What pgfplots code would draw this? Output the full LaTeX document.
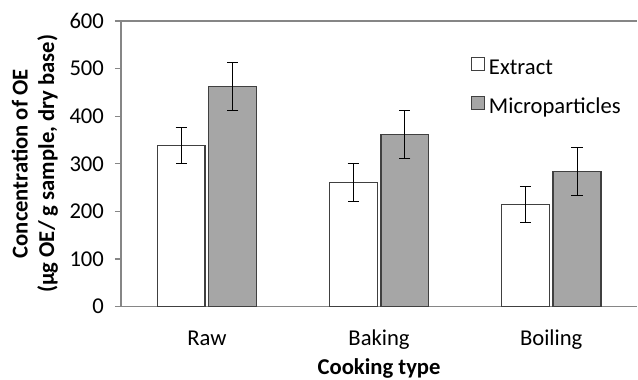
\documentclass[border=0pt]{standalone}
\usepackage{pgfplots}
\pgfplotsset{compat=1.18}
\usepackage{fontspec}
\setmainfont{Carlito}
\definecolor{barg}{HTML}{A6A6A6}
\definecolor{axg}{HTML}{868686}
\definecolor{edg}{HTML}{404040}
\newcommand{\fs}{\fontsize{17}{20}\selectfont}
\begin{document}
\fs
\begin{tikzpicture}
\begin{axis}[
  scale only axis, width=387.75pt, height=214.5pt,
  ymin=0, ymax=600, ytick={0,100,...,600},
  xmin=-0.5, xmax=2.5,
  xtick={0,1,2}, xticklabels={Raw,Baking,Boiling},
  major x tick style={draw=none},
  extra x ticks={-0.5,0.5,1.5,2.5}, extra x tick labels={},
  extra x tick style={major tick length=4.5pt, tick style={draw=axg, line width=1pt}},
  axis x line*=bottom, axis y line*=left,
  axis line style={draw=axg, line width=1.1pt, -},
  tick align=outside,
  major tick length=4.5pt,
  ytick style={draw=axg, line width=1pt},
  /pgf/number format/assume math mode=true,
  tick label style={font=\fs},
  xticklabel style={anchor=base, inner sep=0pt, yshift=-25pt},
  yticklabel style={anchor=east, inner sep=0pt, xshift=-8pt},
  ylabel={Concentration of OE\\(µg OE/ g sample, dry base)},
  ylabel style={at={([xshift=-47pt]axis description cs:0,0.5)}, anchor=south,
     inner sep=0pt, align=center, font=\fs\bfseries},
  xlabel={Cooking type},
  xlabel style={at={(axis description cs:0.5,0)}, anchor=base, inner sep=0pt,
     yshift=-51pt, font=\fs\bfseries},
  bar width=0.278,
  legend style={draw=none, fill=none, at={(0.678,0.875)}, anchor=north west,
     inner sep=0pt, font=\fs, row sep=11.5pt,
     legend cell align=left},
  legend image code/.code={\draw[#1, line width=0.6pt] (0pt,-1pt) rectangle (9.5pt,8.5pt);
     \path[draw=none, fill=none] (0pt,0pt) -- (11pt,0pt);},
]
\addplot[ybar, bar shift=0pt, fill=white, draw=edg, line width=0.9pt,
  error bars/.cd, y dir=both, y explicit,
  error bar style={black, line width=0.6pt},
  error mark options={rotate=90, mark size=4.2pt, black, line width=0.6pt}]
  coordinates {(-0.15,338) +- (0,38) (0.85,261) +- (0,39) (1.85,215) +- (0,38)};
\addlegendentry{Extract}
\addplot[ybar, bar shift=0pt, fill=barg, draw=edg, line width=0.9pt,
  error bars/.cd, y dir=both, y explicit,
  error bar style={black, line width=0.6pt},
  error mark options={rotate=90, mark size=4.2pt, black, line width=0.6pt}]
  coordinates {(0.15,463) +- (0,50) (1.15,362) +- (0,50) (2.15,284) +- (0,50)};
\addlegendentry{Microparticles}
\draw[axg, line width=1.1pt] (rel axis cs:0,1) -- (rel axis cs:1,1);
\end{axis}
\path (current axis.south west) ++(-90.75pt,-54.75pt);
\path (current axis.north east) ++(0,15.75pt);
\end{tikzpicture}
\end{document}
